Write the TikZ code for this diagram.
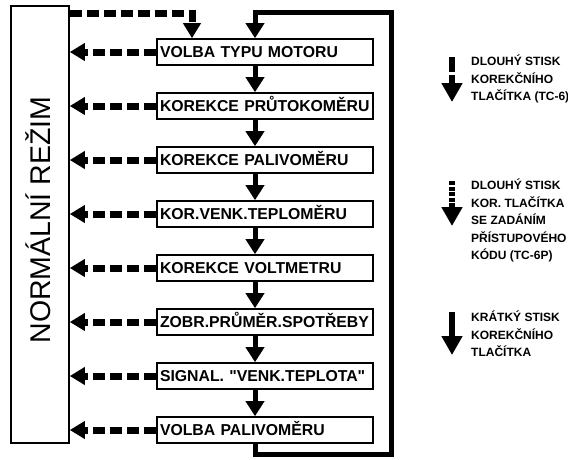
\documentclass[tikz,border=0pt]{standalone}
\usepackage{fontspec}
\setmainfont{Liberation Sans}
\usetikzlibrary{arrows.meta,calc}
\tikzset{
  krok/.style={draw,line width=1.6pt,minimum width=216pt,minimum height=26pt,
    text width=210pt,align=left,inner xsep=3pt,inner ysep=0pt,
    text height=11pt,text depth=0pt,font=\fontsize{15.8}{18}\selectfont\bfseries},
  rezim/.style={draw,line width=1.6pt,minimum width=58pt,minimum height=437pt,inner sep=0pt},
  kratky/.style={-{Triangle[length=15pt,width=18pt]},line width=5pt},
  dlouhy/.style={-{Triangle[length=15pt,width=17pt]},line width=7pt,dash pattern=on 12pt off 5pt},
  smycka/.style={kratky,line join=miter},
  legkratky/.style={-{Triangle[length=19pt,width=20pt]},line width=6pt},
  legdlouhy/.style={legkratky,dash pattern=on 15pt off 3pt},
  legkod/.style={legkratky,dash pattern=on 4pt off 1.5pt},
  popis/.style={align=left,inner sep=0pt,anchor=north west,
    font=\fontsize{12}{17.5}\selectfont\bfseries},
}

\begin{document}
\begin{tikzpicture}[x=1pt,y=-1pt]
  \useasboundingbox (0,0) rectangle (568,459);
  % normalni rezim
  \node[rezim] (normal) at (40,224.5) {};
  \node[rotate=90,anchor=base,font=\fontsize{28.5}{30}\selectfont] (normaltext) at (50,220) {NORMÁLNÍ REŽIM};
  % kroky menu
  \node[krok] (typ)      at (265,52)  {VOLBA TYPU MOTORU};
  \node[krok] (prutok)   at (265,106) {KOREKCE PRŮTOKOMĚRU};
  \node[krok] (palivo)   at (265,160) {KOREKCE PALIVOMĚRU};
  \node[krok] (teplo)    at (265,214) {KOR.VENK.TEPLOMĚRU};
  \node[krok] (volt)     at (265,268) {KOREKCE VOLTMETRU};
  \node[krok] (spotreba) at (265,322) {ZOBR.PRŮMĚR.SPOTŘEBY};
  \node[krok] (signal)   at (265,376) {SIGNAL. \textquotedbl VENK.TEPLOTA\textquotedbl};
  \node[krok] (volba)    at (265,430) {VOLBA PALIVOMĚRU};
  \coordinate (osa) at (255,0);
  \coordinate (vstup) at (192,0);
  \coordinate (smyckabod) at (391,12);
  % kratky stisk: dalsi krok
  \draw[kratky] (typ.south -| osa) -- (prutok.north -| osa);
  \draw[kratky] (prutok.south -| osa) -- (palivo.north -| osa);
  \draw[kratky] (palivo.south -| osa) -- (teplo.north -| osa);
  \draw[kratky] (teplo.south -| osa) -- (volt.north -| osa);
  \draw[kratky] (volt.south -| osa) -- (spotreba.north -| osa);
  \draw[kratky] (spotreba.south -| osa) -- (signal.north -| osa);
  \draw[kratky] (signal.south -| osa) -- (volba.north -| osa);
  \draw[smycka] (volba.south -| osa) -- ++(0,11) -| (smyckabod) -| (typ.north -| osa);
  % dlouhy stisk: zpet do normalniho rezimu
  \draw[dlouhy] ($(normal.north east)+(0,8)$) -| (typ.north -| vstup);
  \draw[dlouhy] (typ.west) -- (typ.west -| normal.east);
  \draw[dlouhy] (prutok.west) -- (prutok.west -| normal.east);
  \draw[dlouhy] (palivo.west) -- (palivo.west -| normal.east);
  \draw[dlouhy] (teplo.west) -- (teplo.west -| normal.east);
  \draw[dlouhy] (volt.west) -- (volt.west -| normal.east);
  \draw[dlouhy] (spotreba.west) -- (spotreba.west -| normal.east);
  \draw[dlouhy] (signal.west) -- (signal.west -| normal.east);
  \draw[dlouhy] (volba.west) -- (volba.west -| normal.east);
  % legenda
  \coordinate (leg1a) at (452,57);  \coordinate (leg1b) at (452,102);
  \coordinate (leg2a) at (452,181); \coordinate (leg2b) at (452,226);
  \coordinate (leg3a) at (452,312); \coordinate (leg3b) at (452,355);
  \draw[legdlouhy] (leg1a) -- (leg1b);
  \draw[legkod] (leg2a) -- (leg2b);
  \draw[legkratky] (leg3a) -- (leg3b);
  \node[popis] (popis1) at (471,55)  {DLOUHÝ STISK\\KOREKČNÍHO\\TLAČÍTKA (TC-6)};
  \node[popis] (popis2) at (471,179) {DLOUHÝ STISK\\KOR. TLAČÍTKA\\SE ZADÁNÍM\\PŘÍSTUPOVÉHO\\KÓDU (TC-6P)};
  \node[popis] (popis3) at (471,311) {KRÁTKÝ STISK\\KOREKČNÍHO\\TLAČÍTKA};
\end{tikzpicture}
\end{document}
